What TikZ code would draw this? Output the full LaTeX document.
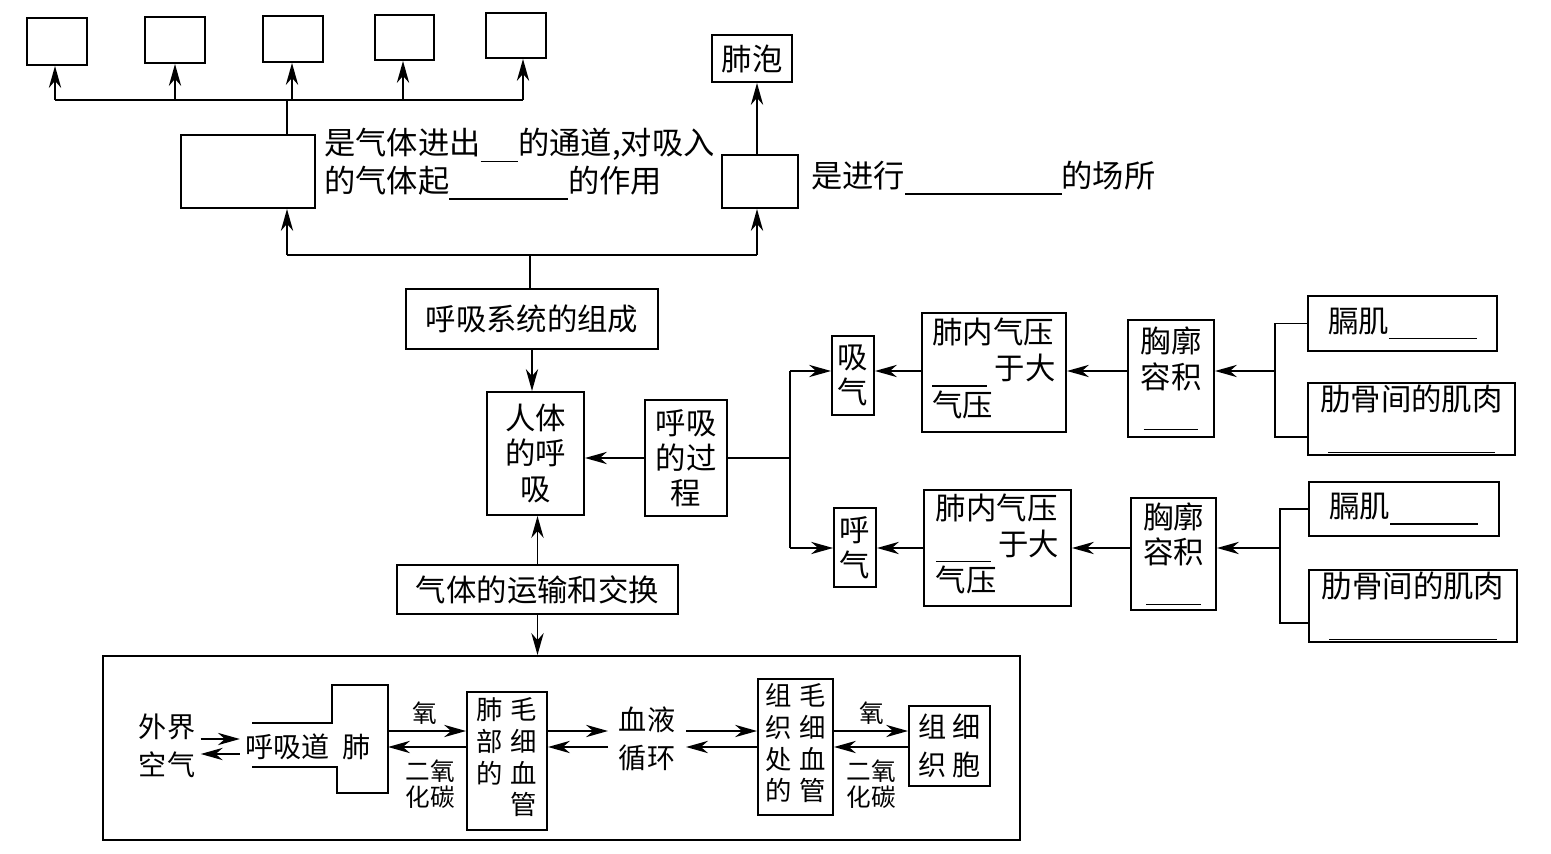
\documentclass[tikz,border=0pt]{standalone}
\usepackage{fontspec}
\setmainfont{Noto Sans CJK SC}
\usetikzlibrary{arrows.meta}
\newcommand\blankline[1]{\rule[-0.22em]{#1}{0.7pt}}
\begin{document}
\begin{tikzpicture}[x=0.02cm,y=-0.02cm,
  bx/.style 2 args={draw, line width=1.1pt, minimum width=#1*0.02cm, minimum height=#2*0.02cm, inner sep=0pt, anchor=center, align=center},
  big/.style={font=\fontsize{17.3}{20}\selectfont},
  mid/.style={font=\fontsize{16}{21.5}\selectfont},
  cell/.style={font=\fontsize{15}{18}\selectfont},
  small/.style={font=\fontsize{14}{14.5}\selectfont, inner sep=0pt, align=center},
  ln/.style={line width=0.95pt},
  arr/.style={line width=0.95pt, -{Stealth[length=12.5pt,width=7pt,inset=4pt]}},
  txt/.style={inner sep=0pt}]
\useasboundingbox (0,0) rectangle (1551,854);

% ---- top row of empty boxes
\node[bx={60}{47}] (t1) at (57,41.5) {};
\node[bx={60}{46}] (t2) at (175,40) {};
\node[bx={60}{46}] (t3) at (293,39) {};
\node[bx={59}{45}] (t4) at (404.5,37.5) {};
\node[bx={60}{45}] (t5) at (516,35.5) {};
\coordinate (a1) at (55,100);
\coordinate (a2) at (175,100);
\coordinate (a3) at (292,100);
\coordinate (a4) at (403,100);
\coordinate (a5) at (523,100);
\coordinate (bus) at (287,100);
\draw[ln] (a1) -- (a5);
\draw[arr] (a1) -- (a1 |- t1.south);
\draw[arr] (a2) -- (a2 |- t2.south);
\draw[arr] (a3) -- (a3 |- t3.south);
\draw[arr] (a4) -- (a4 |- t4.south);
\draw[arr] (a5) -- (a5 |- t5.south);

% ---- respiratory tract box
\node[bx={134}{73}] (rd) at (248,171.5) {};
\draw[ln] (bus) -- (bus |- rd.north);
\node[txt, anchor=west, align=left, font=\fontsize{17.8}{21.5}\selectfont] (rdt) at (324,164)
  {是气体进出\blankline{1.2em}的通道,对吸入\\的气体起\blankline{3.8em}的作用};

% ---- lung box and alveoli
\node[bx={80}{47}, big] (fp) at (752,58.5) {肺泡};
\node[bx={76}{53}] (lb) at (760,181.5) {};
\node[txt, anchor=west, font=\fontsize{17.8}{21.5}\selectfont] (lbt) at (811,178) {是进行\blankline{5em}的场所};

\coordinate (b2l) at (287,255);
\coordinate (b2m) at (530,255);
\coordinate (b2r) at (757,255);
\draw[ln] (b2l) -- (b2r);
\draw[arr] (b2l) -- (b2l |- rd.south);
\draw[arr] (b2r) -- (b2r |- lb.south);
\draw[arr] (lb.north -| b2r) -- (b2r |- fp.south);

% ---- centre column
\node[bx={252}{60}, big] (zc) at (532,319) {呼吸系统的组成};
\draw[ln] (b2m) -- (b2m |- zc.north);
\node[bx={97}{123}, big] (rt) at (535.5,453.5) {人体\\的呼\\吸};
\draw[arr] (zc.south) -- (zc.south |- rt.north);
\node[bx={82}{116}, big] (gc) at (686,458) {呼吸\\的过\\程};
\draw[arr] (gc.west) -- (gc.west -| rt.east);

% ---- inhale / exhale fork
\coordinate (row1) at (0,371);
\coordinate (row2) at (0,548);
\coordinate (fk) at (790,458);
\node[bx={42}{79}, big] (xq) at (853,375.5) {吸\\气};
\node[bx={42}{79}, big] (hq) at (855,547.5) {呼\\气};
\draw[ln] (gc.east) -- (fk);
\draw[ln] (fk |- row1) -- (fk |- row2);
\draw[arr] (fk |- row1) -- (xq.west |- row1);
\draw[arr] (fk |- row2) -- (hq.west |- row2);

% upper row
\node[bx={144}{119}, big] (fn1) at (994,372.5)
  {\begin{tabular}{@{}l@{}}肺内气压\\\blankline{1.8em}\hspace{0.25em}于大\\气压\end{tabular}};
\node[bx={86}{117}, big] (xk1) at (1171,378.5) {胸廓\\容积\\\blankline{1.8em}};
\node[bx={189}{55}, big] (gj1) at (1402.5,323.5) {膈肌\blankline{2.9em}};
\node[bx={207}{72}, big] (lg1) at (1411.5,419) {肋骨间的肌肉\\\blankline{5.5em}};
\coordinate (br1) at (1275,437);
\draw[ln] (gj1.west) -| (br1) -- (br1 -| lg1.west);
\draw[arr] (br1 |- row1) -- (xk1.east |- row1);
\draw[arr] (xk1.west |- row1) -- (fn1.east |- row1);
\draw[arr] (fn1.west |- row1) -- (xq.east |- row1);

% lower row
\node[bx={147}{116}, big] (fn2) at (997.5,548)
  {\begin{tabular}{@{}l@{}}肺内气压\\\blankline{1.8em}\hspace{0.25em}于大\\气压\end{tabular}};
\node[bx={85}{112}, big] (xk2) at (1173.5,554) {胸廓\\容积\\\blankline{1.8em}};
\node[bx={190}{54}, big] (gj2) at (1404,509) {膈肌\blankline{2.9em}};
\node[bx={208}{72}, big] (lg2) at (1413,606) {肋骨间的肌肉\\\blankline{5.5em}};
\coordinate (br2) at (1280,623);
\draw[ln] (gj2.west) -| (br2) -- (br2 -| lg2.west);
\draw[arr] (br2 |- row2) -- (xk2.east |- row2);
\draw[arr] (xk2.west |- row2) -- (fn2.east |- row2);
\draw[arr] (fn2.west |- row2) -- (hq.east |- row2);

% ---- gas transport
\node[bx={281}{49}, big] (yz) at (537.5,589.5) {气体的运输和交换};
\draw[arr] (yz.north) -- (yz.north |- rt.south);
\node[bx={917}{184}] (ct) at (561.5,748) {};
\draw[arr] (yz.south) -- (yz.south |- ct.north);

% inside container
\coordinate (y739) at (0,739);
\coordinate (y754) at (0,754);
\coordinate (y731) at (0,731);
\coordinate (y747) at (0,747);
\node[mid, inner sep=3pt, align=center] (wj) at (167,746) {外界\\空气};
\node[mid, inner sep=3pt] (hxt) at (308,747) {呼吸道\hspace{0.45em}肺};
\draw[arr] (wj.east |- y739) -- (hxt.west |- y739);
\draw[arr] (hxt.west |- y754) -- (wj.east |- y754);
\draw[ln] (252,723) -- (332,723) -- (332,685) -- (388,685) -- (388,793) -- (337,793) -- (337,767) -- (252,767);
\coordinate (lungR) at (388,739);

\node[bx={80}{138}, cell] (fb) at (507,761) {\begin{tabular}{@{}l@{\hspace{0.3em}}l@{}}肺&毛\\部&细\\的&血\\&管\end{tabular}};
\draw[arr] (lungR |- y731) -- (fb.west |- y731);
\draw[arr] (fb.west |- y747) -- (lungR |- y747);
\node[small] (o1) at (425,713) {氧};
\node[small] (c1) at (430,784) {二氧\\化碳};

\node[mid, inner sep=6pt, align=center] (xy) at (647,739) {血液\\循环};
\draw[arr] (fb.east |- y731) -- (xy.west |- y731);
\draw[arr] (xy.west |- y747) -- (fb.east |- y747);

\node[bx={75}{136}, cell] (zz) at (795.5,747) {\begin{tabular}{@{}l@{\hspace{0.3em}}l@{}}组&毛\\织&细\\处&血\\的&管\end{tabular}};
\draw[arr] (xy.east |- y731) -- (zz.west |- y731);
\draw[arr] (zz.west |- y747) -- (xy.east |- y747);

\node[bx={81}{80}, mid] (xb) at (949.5,746) {组\hspace{0.2em}细\\织\hspace{0.2em}胞};
\draw[arr] (zz.east |- y731) -- (xb.west |- y731);
\draw[arr] (xb.west |- y747) -- (zz.east |- y747);
\node[small] (o2) at (872,713) {氧};
\node[small] (c2) at (871,784) {二氧\\化碳};
\end{tikzpicture}
\end{document}
